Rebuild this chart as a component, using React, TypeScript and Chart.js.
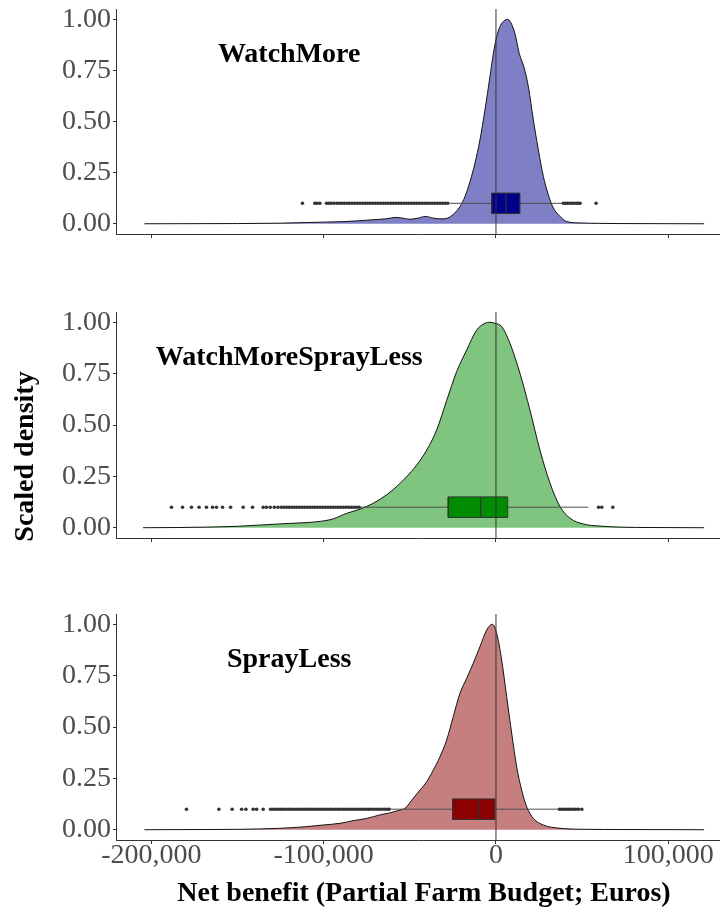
import React, { useEffect, useRef } from "react";
import { Chart, registerables } from "chart.js";

Chart.register(...registerables);

// ---------- data ----------
const X_TICKS = [-200000, -100000, 0, 100000];
const Y_TICKS = [0, 0.25, 0.5, 0.75, 1];

const PANEL_NAMES = ["WatchMore", "WatchMoreSprayLess", "SprayLess"];

// WatchMore density (scaled)
const WM_DENS_X = [-204000, -150000, -125000, -110000, -100000, -87000, -71000, -64000, -58000, -53000, -50000, -45000, -41000, -36000, -31000, -28000, -25000, -20900, -18000, -15100, -12200, -9300, -6400, -3500, -1500, 400, 2700, 5200, 6600, 8500, 11000, 13500, 16200, 18800, 21700, 24600, 27500, 30400, 33300, 37200, 41000, 48800, 60000, 72000, 120800];
const WM_DENS_Y = [0, 0.001, 0.003, 0.006, 0.008, 0.011, 0.02, 0.024, 0.031, 0.026, 0.022, 0.028, 0.036, 0.027, 0.024, 0.028, 0.044, 0.084, 0.133, 0.206, 0.296, 0.41, 0.556, 0.719, 0.833, 0.914, 0.971, 0.995, 1.0, 0.985, 0.93, 0.833, 0.767, 0.67, 0.507, 0.361, 0.231, 0.141, 0.077, 0.036, 0.011, 0.004, 0.002, 0.001, 0];
// [lower whisker, Q1, median, Q3, upper whisker]
const WM_BOX = [-26700, -2500, 5800, 13900, 38200];
const WM_OUT = [-112300, -105100, -103800, -102200, -98300, -97000, -95600, -94100, -92400, -90900, -89500, -88000, -86400, -85000, -83500, -82000, -80500, -79000, -77500, -76000, -74500, -73000, -71500, -70000, -68500, -67000, -65500, -64000, -62500, -61000, -59500, -58000, -56500, -55000, -53500, -52000, -50500, -49000, -47500, -46000, -44500, -43000, -41500, -40000, -38500, -37000, -35500, -34000, -32500, -31000, -29500, -28000, 39100, 40300, 41500, 42700, 44000, 45200, 46500, 47700, 48800, 58100];

// WatchMoreSprayLess density (scaled)
const WMS_DENS_X = [-204800, -185000, -168000, -150000, -139000, -120000, -104000, -94500, -86700, -79000, -71200, -63500, -57700, -51900, -46000, -40200, -34400, -28600, -22800, -17000, -11200, -6400, -3500, -600, 3300, 8100, 13900, 19700, 25500, 31400, 37200, 43000, 50700, 60400, 72000, 90000, 120800];
const WMS_DENS_Y = [0, 0.001, 0.003, 0.007, 0.012, 0.021, 0.029, 0.043, 0.07, 0.09, 0.119, 0.16, 0.2, 0.248, 0.305, 0.378, 0.476, 0.62, 0.76, 0.865, 0.962, 0.995, 1.0, 0.995, 0.979, 0.898, 0.752, 0.573, 0.378, 0.216, 0.102, 0.046, 0.018, 0.008, 0.003, 0.001, 0];
const WMS_BOX = [-79000, -27700, -8900, 6800, 53600];
const WMS_OUT = [-188300, -181900, -176700, -172300, -168000, -164500, -162200, -158700, -154000, -146700, -141300, -135100, -133200, -131000, -128600, -126500, -124600, -123000, -121500, -120000, -118500, -117000, -115500, -114000, -112500, -111000, -109500, -108000, -106500, -105000, -103500, -102000, -100500, -99000, -97500, -96000, -94500, -93000, -91500, -90000, -88500, -87000, -85500, -84000, -82500, -81000, -79500, 59500, 61400, 67800];

// SprayLess density (scaled)
const SL_DENS_X = [-204000, -170000, -148700, -125400, -109900, -100300, -90600, -82900, -75100, -67400, -61600, -56000, -52800, -48000, -44100, -40200, -36400, -32500, -28600, -24800, -20900, -17000, -13200, -9300, -5400, -2100, 400, 3300, 6200, 9100, 12000, 14900, 17800, 21700, 27500, 37200, 52700, 72000, 120800];
const SL_DENS_Y = [0, 0.001, 0.002, 0.007, 0.015, 0.023, 0.031, 0.044, 0.055, 0.072, 0.082, 0.095, 0.104, 0.153, 0.193, 0.234, 0.29, 0.355, 0.437, 0.55, 0.664, 0.737, 0.81, 0.891, 0.972, 1.0, 0.956, 0.826, 0.648, 0.47, 0.307, 0.193, 0.112, 0.055, 0.023, 0.007, 0.002, 0.001, 0];
const SL_BOX = [-61500, -25200, -10300, -600, 36200];
const SL_OUT = [-179600, -160800, -153100, -147600, -145100, -140900, -138900, -135100, -130800, -129300, -127800, -126300, -124800, -123300, -121800, -120300, -118800, -117300, -115800, -114300, -112800, -111300, -109800, -108300, -106800, -105300, -103800, -102300, -100800, -99300, -97800, -96300, -94800, -93300, -91800, -90300, -88800, -87300, -85800, -84300, -82800, -81300, -79800, -78300, -76800, -75300, -73800, -72300, -70800, -69300, -67800, -66300, -64800, -63300, -62000, 36800, 38000, 39400, 40800, 42200, 43500, 45000, 46400, 47800, 49800];

const X_TITLE = "Net benefit (Partial Farm Budget; Euros)";
const Y_TITLE = "Scaled density";

// ---------- styling / layout ----------
const FONT = '"Liberation Serif", "Times New Roman", serif';
const TICK_COLOR = "#4d4d4d";
const AXIS_COLOR = "#333333";

const PANELS = [
  { name: PANEL_NAMES[0], dx: WM_DENS_X, dy: WM_DENS_Y, box: WM_BOX, out: WM_OUT, fill: "rgba(0,0,139,0.5)", boxColor: "#00008B", top: 0, height: 262, areaTop: 9, areaBottom: 234, labels: false },
  { name: PANEL_NAMES[1], dx: WMS_DENS_X, dy: WMS_DENS_Y, box: WMS_BOX, out: WMS_OUT, fill: "rgba(0,139,0,0.5)", boxColor: "#008B00", top: 262, height: 300, areaTop: 312, areaBottom: 538, labels: false },
  { name: PANEL_NAMES[2], dx: SL_DENS_X, dy: SL_DENS_Y, box: SL_BOX, out: SL_OUT, fill: "rgba(139,0,0,0.5)", boxColor: "#8B0000", top: 562, height: 349, areaTop: 614, areaBottom: 840, labels: true },
];

const textPlugin = {
  id: "texts",
  afterDraw(chart: any, _args: any, opts: any) {
    const ctx = chart.ctx;
    const items = (opts && opts.items) || [];
    for (const t of items) {
      ctx.save();
      ctx.font = t.font;
      ctx.fillStyle = t.color || "#000";
      ctx.textAlign = "center";
      ctx.textBaseline = "middle";
      const px = t.dataX !== undefined ? chart.scales.x.getPixelForValue(t.dataX) : t.px;
      const py = t.dataY !== undefined ? chart.scales.y.getPixelForValue(t.dataY) : t.py;
      ctx.translate(px, py);
      if (t.rotate) ctx.rotate(t.rotate);
      ctx.fillText(t.text, 0, 0);
      ctx.restore();
    }
  },
};

function makeConfig(p: any, idx: number) {
  const axisH = p.labels ? 40 : 6;
  const padTop = p.areaTop - p.top;
  const padBottom = p.height - (p.areaBottom - p.top) - axisH;
  const [lo, q1, med, q3, hi] = p.box;
  const items: any[] = [
    { text: p.name, dataX: -120000, dataY: 0.825, font: `bold 28px ${FONT}`, color: "#000" },
  ];
  if (idx === 1) items.push({ text: Y_TITLE, px: 26, py: 456.5 - p.top, rotate: -Math.PI / 2, font: `bold 28px ${FONT}`, color: "#000" });
  if (idx === 2) items.push({ text: X_TITLE, px: 424, py: 894 - p.top, font: `bold 28px ${FONT}`, color: "#000" });

  return {
    type: "line",
    data: {
      datasets: [
        {
          label: "density",
          data: p.dx.map((x: number, i: number) => ({ x, y: p.dy[i] })),
          borderColor: "#111111",
          borderWidth: 1,
          backgroundColor: p.fill,
          fill: "origin",
          pointRadius: 0,
          pointHoverRadius: 0,
          cubicInterpolationMode: "monotone",
          order: 10,
        },
        {
          label: "whisker",
          data: [{ x: lo, y: 0.1 }, { x: hi, y: 0.1 }],
          borderColor: "#4d4d4d",
          borderWidth: 1,
          pointRadius: 0,
          pointHoverRadius: 0,
          fill: false,
          order: 8,
        },
        {
          label: "boxfill",
          data: [{ x: q1, y: 0.15 }, { x: q3, y: 0.15 }],
          borderWidth: 0,
          borderColor: "rgba(0,0,0,0)",
          backgroundColor: p.boxColor,
          fill: { value: 0.05 },
          pointRadius: 0,
          pointHoverRadius: 0,
          order: 7,
        },
        {
          label: "boxoutline",
          data: [{ x: q1, y: 0.05 }, { x: q3, y: 0.05 }, { x: q3, y: 0.15 }, { x: q1, y: 0.15 }, { x: q1, y: 0.05 }],
          borderColor: "#333333",
          borderWidth: 1,
          pointRadius: 0,
          pointHoverRadius: 0,
          fill: false,
          order: 6,
        },
        {
          label: "median",
          data: [{ x: med, y: 0.05 }, { x: med, y: 0.15 }],
          borderColor: "#333333",
          borderWidth: 1.2,
          pointRadius: 0,
          pointHoverRadius: 0,
          fill: false,
          order: 5,
        },
        {
          label: "outliers",
          data: p.out.map((x: number) => ({ x, y: 0.1 })),
          showLine: false,
          pointRadius: 1.8,
          pointHoverRadius: 0,
          pointBorderWidth: 0,
          pointBackgroundColor: "#333333",
          pointBorderColor: "#333333",
          order: 4,
        },
        {
          label: "zero",
          data: [{ x: 0, y: -0.05 }, { x: 0, y: 1.05 }],
          borderColor: "#333333",
          borderWidth: 1,
          pointRadius: 0,
          pointHoverRadius: 0,
          fill: false,
          order: 1,
        },
      ],
    },
    options: {
      responsive: false,
      maintainAspectRatio: false,
      animation: false,
      events: [],
      layout: { autoPadding: false, padding: { top: padTop, bottom: padBottom, left: 0, right: 0 } },
      plugins: {
        legend: { display: false },
        tooltip: { enabled: false },
        texts: { items },
      },
      scales: {
        x: {
          type: "linear",
          min: -220500,
          max: 130000,
          afterBuildTicks: (s: any) => {
            s.ticks = X_TICKS.map((v) => ({ value: v }));
          },
          afterFit: (s: any) => {
            s.height = axisH;
            s.paddingLeft = 0;
            s.paddingRight = 0;
          },
          grid: { drawOnChartArea: false, drawTicks: true, tickLength: 4, color: AXIS_COLOR, lineWidth: 1 },
          border: { display: true, color: AXIS_COLOR, width: 1 },
          ticks: {
            display: p.labels,
            autoSkip: false,
            maxRotation: 0,
            padding: -5,
            color: TICK_COLOR,
            font: { family: FONT, size: 28 },
            callback: (v: any) => Number(v).toLocaleString("en-US"),
          },
        },
        y: {
          type: "linear",
          min: -0.05,
          max: 1.05,
          afterBuildTicks: (s: any) => {
            s.ticks = Y_TICKS.map((v) => ({ value: v }));
          },
          afterFit: (s: any) => {
            s.width = 116;
            s.paddingTop = 0;
            s.paddingBottom = 0;
          },
          grid: { drawOnChartArea: false, drawTicks: true, tickLength: 3, color: AXIS_COLOR, lineWidth: 1 },
          border: { display: true, color: AXIS_COLOR, width: 1 },
          ticks: {
            autoSkip: false,
            padding: 2,
            color: TICK_COLOR,
            font: { family: FONT, size: 28 },
            callback: (v: any) => Number(v).toFixed(2),
          },
        },
      },
    },
    plugins: [textPlugin],
  };
}

export default function App() {
  const refs = [useRef<HTMLCanvasElement>(null), useRef<HTMLCanvasElement>(null), useRef<HTMLCanvasElement>(null)];

  useEffect(() => {
    const charts: Chart[] = [];
    PANELS.forEach((p, i) => {
      const c = refs[i].current;
      if (!c) return;
      charts.push(new Chart(c, makeConfig(p, i) as any));
    });
    return () => charts.forEach((ch) => ch.destroy());
  }, []);

  return (
    <div style={{ position: "absolute", left: 0, top: 0, width: 720, height: 911, background: "#ffffff", overflow: "hidden" }}>
      {PANELS.map((p, i) => (
        <canvas
          key={p.name}
          ref={refs[i]}
          width={720}
          height={p.height}
          style={{ position: "absolute", left: 0, top: p.top, display: "block" }}
        />
      ))}
    </div>
  );
}
